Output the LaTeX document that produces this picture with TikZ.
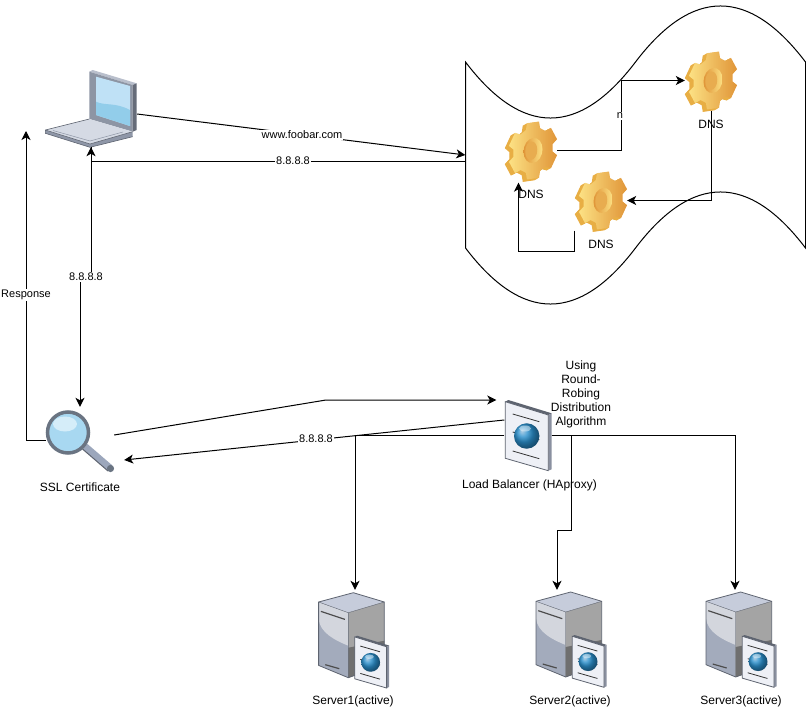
\documentclass[tikz,border=0pt]{standalone}
\usepackage{fontspec}
\setmainfont{Liberation Sans}
\usetikzlibrary{arrows.meta}
\usetikzlibrary{positioning}
\definecolor{gearlight}{HTML}{FCE184}
\definecolor{geardark}{HTML}{E09538}
\definecolor{gearside}{HTML}{E8AE44}
\definecolor{orbdark}{HTML}{1766A8}
\definecolor{orblight}{HTML}{35A4DE}
\definecolor{lidface}{HTML}{8D95A4}
\definecolor{lidside}{HTML}{666C79}
\definecolor{lidtop}{HTML}{B9BFCC}
\definecolor{screenlight}{HTML}{BFE1F6}
\definecolor{screendark}{HTML}{92CDEA}
\definecolor{basetop}{HTML}{D5DAE4}
\definecolor{basefront}{HTML}{8F97A8}
\definecolor{metaledge}{HTML}{5E6470}
\definecolor{lensglass}{HTML}{A8D8F1}
\definecolor{lensshine}{HTML}{D5EDF9}
\definecolor{lensrim}{HTML}{6A7482}
\definecolor{handle}{HTML}{9CA7BC}
\definecolor{servertop}{HTML}{C6CCDB}
\definecolor{serverleft}{HTML}{A3ABBC}
\definecolor{serverpale}{HTML}{D3D6DD}
\definecolor{serverright}{HTML}{A4A4A4}
\definecolor{serverlow}{HTML}{6F6F6F}
\definecolor{pageface}{HTML}{EEF0F6}
\definecolor{pageside}{HTML}{8A90A0}
% one outline for all the gears: six teeth, walked point by point
\newcommand{\gearpath}{plot [samples at={0,...,23}]
  ({90+60*floor(\x/4)+{-14,14,21,39}[int(mod(\x,4))]}:{mod(\x,4)<2 ? 1 : 0.79})}
\tikzset {
  % path style with an arrow at its end
  arr/.style = {
    draw = black,
    line width = 1pt,
    -{Stealth[length = 9pt, width = 9pt, inset = 2.5pt]}
  },
  % path style with no arrows
  narr/.style = {
    draw = black,
    line width = 1pt
  }
}
\tikzset {
  % support node, holds the place of an icon
  iconbox/.style = {
    inner sep = 0,
    minimum width = #1
  },
  lbl/.style = {
    inner sep = 0,
    font = \fontsize{12}{14}\selectfont,
    align = center
  },
  % text that sits on a connector
  wirelbl/.style = {
    inner sep = 1pt,
    font = \fontsize{11}{13}\selectfont,
    fill = white
  },
  node distance = 9.5pt
}
\tikzset {
  gear face/.style = {
    xscale = 25,
    yscale = 29,
    yslant = .12
  },
  gear icon/.pic = {
    \foreach \d in {6,5,...,1} {
      \fill[gearside, shift = {(2-\d*.7, \d*.4)}, gear face] \gearpath -- cycle;
    }
    \shade[left color = gearlight, right color = geardark, shift = {(2,0)}, gear face]
      \gearpath -- cycle;
    \shade[left color = geardark, right color = gearlight, shift = {(2,0)}, gear face]
      (0,0) ellipse (.38 and .43);
    \fill[geardark!70!gearlight, shift = {(2,0)}, gear face]
      (-.07,0) ellipse (.24 and .32);
  },
  page icon/.pic = {
    \fill[metaledge] (0.3,1.7) -- (3.3,0) -- (46.7,13.3) -- (43.3,15) -- cycle;
    \fill[pageside] (43.3,15) -- (46.7,13.3) -- (46.7,69.3) -- (43.3,70.7) -- cycle;
    \draw[metaledge, fill = pageface, line width = .8pt]
      (0.3,1.7) -- (43.3,15) -- (43.3,70.7) -- (0.3,58.3) -- cycle;
    \foreach \l in {0,18,37} {
      \draw[black!80, line width = .8pt] (7.7,14+\l) -- (34.3,21.7+\l);
    }
    \shade[ball color = orblight] (21.7,36) circle (12.7);
    \fill[orbdark, opacity = .25] (21.7,36) circle (12.7);
    \fill[white, opacity = .45] (20,28.5) ellipse (6 and 3);
  },
  server icon/.pic = {
    \fill[servertop] (35.7,0) -- (1,9.3) -- (30.7,20) -- (66.7,9.3) -- cycle;
    \fill[serverleft] (1,9.3) -- (30.7,20) -- (30.7,85) -- (1,72.7) -- cycle;
    \fill[serverpale] (1,9.3) -- (30.7,20) -- (30.7,53) .. controls (18,48) and (2,40) .. (1,26) -- cycle;
    \fill[serverright] (30.7,20) -- (66.7,9.3) -- (66.7,72) -- (30.7,85) -- cycle;
    \fill[serverlow] (30.7,55) -- (66.7,48) -- (66.7,72) -- (30.7,85) -- cycle;
    \draw[metaledge, line width = .8pt, line join = round]
      (1,9.3) -- (35.7,0) -- (66.7,9.3) -- (66.7,72) -- (30.7,85) -- (1,72.7) -- cycle;
    \draw[metaledge, line width = .4pt] (1,9.3) -- (30.7,20) -- (66.7,9.3) (30.7,20) -- (30.7,85);
    \draw[black!70, line width = 1.2pt] (3.3,18.7) -- (27.3,26.7);
    \draw[black!70, line width = 1.2pt] (7.7,72) -- (21.7,76);
    \pic[shift = {(37,43)}, scale = .74] {page icon};
  },
  laptop icon/.pic = {
    % the lid
    \fill[lidtop] (44.3,1.7) -- (47.7,0) -- (91.7,13.3) -- (87.7,15) -- cycle;
    \fill[lidface] (44.3,1.7) -- (87.7,15) -- (87.7,61.7) -- (44.3,49) -- cycle;
    \fill[lidside] (87.7,15) -- (91.7,13.3) -- (91.7,60) -- (87.7,61.7) -- cycle;
    \fill[screenlight] (51,6.7) -- (85,16) -- (85,56) -- (51,45) -- cycle;
    \fill[screendark] (51,31.7) .. controls (60,36) and (70,32) .. (85,40)
      -- (85,56) -- (51,45) -- cycle;
    % the base
    \fill[basefront] (0.3,60) -- (0.3,63.3) -- (45,77.3) -- (87.7,66.7) -- (87.7,61.7) -- (45,74) -- cycle;
    \fill[basetop] (0.3,60) -- (44.3,49) -- (87.7,61.7) -- (45,74) -- cycle;
    \draw[lidface, line width = .5pt] (8,60.5) -- (45,71) -- (78,62);
    \draw[metaledge, line width = .6pt, line join = round]
      (0.3,60) -- (44.3,49) (0.3,60) -- (45,74) -- (87.7,61.7) (0.3,60) -- (0.3,63.3) -- (45,77.3) -- (87.7,66.7);
  },
  lens icon/.pic = {
    \draw[handle, line width = 7pt] (17,14) -- (42,35.5);
    \draw[metaledge, line width = 1pt] (14.5,16.5) -- (40,38.5);
    \fill[lensrim] (42.5,36) circle (3.6);
    \draw[lensrim, line width = 3.5pt, fill = lensglass] (0,0) circle (20.5);
    \fill[lensshine] (-3,-8.5) ellipse (12 and 7.5);
  }
}
\begin{document}
\begin{tikzpicture}[x = 1pt, y = -1pt]
    \useasboundingbox (0,0) rectangle (806,709);

    % the wavy frame round the DNS servers
    \draw[narr] (465.5,62) .. controls (522.2,136.7) and (578.8,136.7) .. (635.5,62)
      .. controls (692.2,-12.7) and (748.8,-12.7) .. (805.5,62)
      -- (805.5,248) .. controls (748.8,173.3) and (692.2,173.3) .. (635.5,248)
      .. controls (578.8,322.7) and (522.2,322.7) .. (465.5,248) -- cycle;

    \pic at (45,70) {laptop icon};
    \pic at (531,150.5) {gear icon};
    \pic at (711,80.5) {gear icon};
    \pic at (601,200.5) {gear icon};
    \pic at (68,432.5) {lens icon};
    \pic at (505,400) {page icon};
    \pic at (317.6,592.7) {server icon};
    \pic at (535,592) {server icon};
    \pic at (705,592) {server icon};

    \node[iconbox = 92, minimum height = 66] (laptop) at (91,114) {};
    \node[iconbox = 340, minimum height = 10] (cloud) at (635.5,155) {};
    \node[iconbox = 52, minimum height = 60] (dns1) at (531,150.5) {};
    \node[iconbox = 52, minimum height = 60] (dns2) at (711,80.5) {};
    \node[iconbox = 52, minimum height = 60] (dns3) at (601,200.5) {};
    \node[iconbox = 68, minimum height = 66] (ssl) at (80,440) {};
    \node[iconbox = 47, minimum height = 70] (lb) at (528,435) {};
    \node[iconbox = 72, minimum height = 100] (server1) at (355,640) {};
    \node[iconbox = 72, minimum height = 100] (server2) at (557,640) {};
    \node[iconbox = 72, minimum height = 100] (server3) at (735,640) {};

    \coordinate (laptop-back) at (91,161);
    \coordinate (ssl-bend) at (91,277);
    \coordinate (ssl-drop) at (80,277);
    \coordinate (response-top) at (26,131);
    \coordinate (ssl-lb) at (326,400);
    \coordinate (dns-turn) at (621.5,80.5);
    \coordinate (bus-left) at (355,435);
    \coordinate (bus-mid) at (571,435);
    \coordinate (bus-bend) at (571,530);

    \draw[arr] (laptop.east) -- (cloud.west);
    \draw[arr] ([yshift = -6pt]cloud.west) -- (laptop-back) -- (laptop.south);
    \draw[arr] (laptop.south) -- (ssl-bend) -- (ssl-drop) -- (ssl.north);
    \draw[arr] (ssl.west) -| (response-top);
    \draw[arr] ([yshift = 5pt]ssl.east) -- (ssl-lb) -- ([shift = {(-8pt,35pt)}]lb.west);
    \draw[arr] ([yshift = 15pt]lb.west) -- ([shift = {(10pt,-20pt)}]ssl.east);
    \draw[arr] (dns1.east) -| (dns-turn) -- (dns2.west);
    \draw[arr] (dns2.south) |- (dns3.east);
    \draw[arr] (dns3.south west) -- ++(0,20.5) -| ([xshift = -12.5pt, yshift = -2pt]dns1.south);
    \draw[arr] (lb.west) -- (bus-left) -- (server1.north);
    \draw[arr] (lb.east) -| (server3.north);
    \draw[arr] (lb.east) -- (bus-mid) -- (bus-bend) -| (server2.north);

    \node[wirelbl] (url-label) at (302,135) {www.foobar.com};
    \node[wirelbl] (back-label) at (293,161) {8.8.8.8};
    \node[wirelbl] (down-label) at (86,277) {8.8.8.8};
    \node[wirelbl] (response-label) at (26,295) {Response};
    \node[wirelbl] (lb-label) at (316,439) {8.8.8.8};
    \node[wirelbl] (n-label) at (620,116) {n};

    \node[lbl] (dns1-label) [below=of dns1] {DNS};
    \node[lbl] (dns2-label) [below=of dns2] {DNS};
    \node[lbl] (dns3-label) [below=of dns3] {DNS};
    \node[lbl] (ssl-label) [below=of ssl] {SSL Certificate};
    \node[lbl] (lb-name) [below=of lb, xshift = 1.5pt] {Load Balancer (HAproxy)};
    \node[lbl] (robin-label) at (581,394) {Using\\Round-\\Robing\\Distribution\\Algorithm};
    \node[lbl] (server1-label) [below=5.5pt of server1, xshift = -2pt] {Server1(active)};
    \node[lbl] (server2-label) [below=5.5pt of server2, xshift = 13pt] {Server2(active)};
    \node[lbl] (server3-label) [below=5.5pt of server3, xshift = 6pt] {Server3(active)};
\end{tikzpicture}
\end{document}
